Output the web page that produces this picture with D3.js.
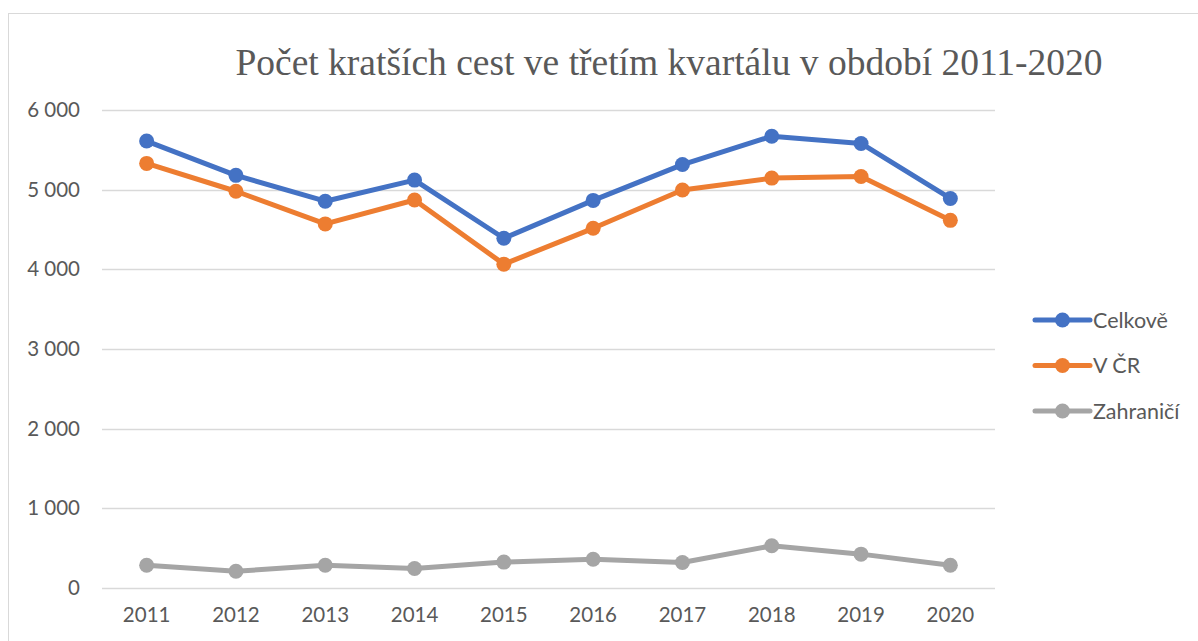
<!DOCTYPE html>
<html>
<head>
<meta charset="utf-8">
<script src="https://cdn.jsdelivr.net/npm/d3@7"></script>
<style>
  body { margin: 0; background: #fff; }
  svg { display: block; }
</style>
</head>
<body>
<div id="chart"></div>
<script>
var years = ['2011', '2012', '2013', '2014', '2015', '2016', '2017', '2018', '2019', '2020'];
var celkove = [5610, 5180, 4855, 5120, 4390, 4865, 5315, 5670, 5580, 4890];
var vCR = [5330, 4980, 4570, 4870, 4065, 4515, 4995, 5145, 5165, 4615];
var zahranici = [285, 210, 285, 245, 325, 360, 320, 530, 425, 285];
var seriesNames = ['Celkově', 'V ČR', 'Zahraničí'];
var yTicks = [0, 1000, 2000, 3000, 4000, 5000, 6000];

var colors = {
  'blue': '#4472C4',
  'orange': '#ED7D31',
  'gray': '#A5A5A5'
};

var series = [
  { name: seriesNames[0], values: celkove, color: colors.blue },
  { name: seriesNames[1], values: vCR, color: colors.orange },
  { name: seriesNames[2], values: zahranici, color: colors.gray }
];

var width = 1198, height = 641;
var labelFont = 'Lato, Carlito, "Open Sans", sans-serif';
var textColor = '#595959';

var svg = d3.select('#chart').append('svg')
  .attr('width', width)
  .attr('height', height);

// chart area frame
svg.append('rect')
  .attr('x', 8.5)
  .attr('y', 13.5)
  .attr('width', width + 10)
  .attr('height', height)
  .attr('fill', '#fff')
  .attr('stroke', '#d9d9d9')
  .attr('stroke-width', 1);

svg.append('text')
  .attr('x', 669)
  .attr('y', 75)
  .attr('text-anchor', 'middle')
  .attr('font-family', '"Liberation Serif", "Times New Roman", serif')
  .attr('font-size', 37.5)
  .attr('fill', textColor)
  .text('Počet kratších cest ve třetím kvartálu v období 2011-2020');

var x = d3.scaleBand()
  .domain(years)
  .range([102, 995]);

var y = d3.scaleLinear()
  .domain([0, 6000])
  .range([588, 110]);

var fmt = function (d) { return d3.format(',')(d).replace(/,/g, ' '); };

// gridlines
svg.append('g')
  .selectAll('line')
  .data(yTicks)
  .enter().append('line')
  .attr('x1', 102)
  .attr('x2', 995)
  .attr('y1', function (d) { return Math.round(y(d)) + 0.5; })
  .attr('y2', function (d) { return Math.round(y(d)) + 0.5; })
  .attr('stroke', '#d9d9d9')
  .attr('stroke-width', 1.5);

var yAxis = svg.append('g')
  .attr('transform', 'translate(80,0)')
  .call(d3.axisLeft(y).tickValues(yTicks).tickFormat(fmt).tickSize(0).tickPadding(0));
yAxis.select('.domain').remove();
yAxis.selectAll('text')
  .attr('font-family', labelFont)
  .attr('font-size', 20.5)
  .attr('fill', textColor);

var xAxis = svg.append('g')
  .attr('transform', 'translate(0,607)')
  .call(d3.axisBottom(x).tickSize(0).tickPadding(0));
xAxis.select('.domain').remove();
xAxis.selectAll('text')
  .attr('font-family', labelFont)
  .attr('font-size', 20.5)
  .attr('fill', textColor);

var line = d3.line()
  .x(function (d, i) { return x(years[i]) + x.bandwidth() / 2; })
  .y(function (d) { return y(d); });

var groups = svg.append('g')
  .selectAll('g')
  .data(series)
  .enter().append('g');

groups.append('path')
  .attr('d', function (s) { return line(s.values); })
  .attr('fill', 'none')
  .attr('stroke', function (s) { return s.color; })
  .attr('stroke-width', 5)
  .attr('stroke-linejoin', 'round')
  .attr('stroke-linecap', 'round');

groups.selectAll('circle')
  .data(function (s) { return s.values.map(function (v, i) { return { v: v, i: i, color: s.color }; }); })
  .enter().append('circle')
  .attr('cx', function (d) { return x(years[d.i]) + x.bandwidth() / 2; })
  .attr('cy', function (d) { return y(d.v); })
  .attr('r', 7.5)
  .attr('fill', function (d) { return d.color; });

// legend
var legend = svg.append('g')
  .selectAll('g')
  .data(series)
  .enter().append('g')
  .attr('transform', function (s, i) { return 'translate(1035,' + (320 + i * 45.5) + ')'; });

legend.append('line')
  .attr('x1', 0)
  .attr('x2', 55)
  .attr('stroke', function (s) { return s.color; })
  .attr('stroke-width', 5)
  .attr('stroke-linecap', 'round');

legend.append('circle')
  .attr('cx', 27.5)
  .attr('r', 7.5)
  .attr('fill', function (s) { return s.color; });

legend.append('text')
  .attr('x', 58)
  .attr('dy', '0.35em')
  .attr('font-family', labelFont)
  .attr('font-size', 21.5)
  .attr('fill', textColor)
  .text(function (s) { return s.name; });
</script>
</body>
</html>
